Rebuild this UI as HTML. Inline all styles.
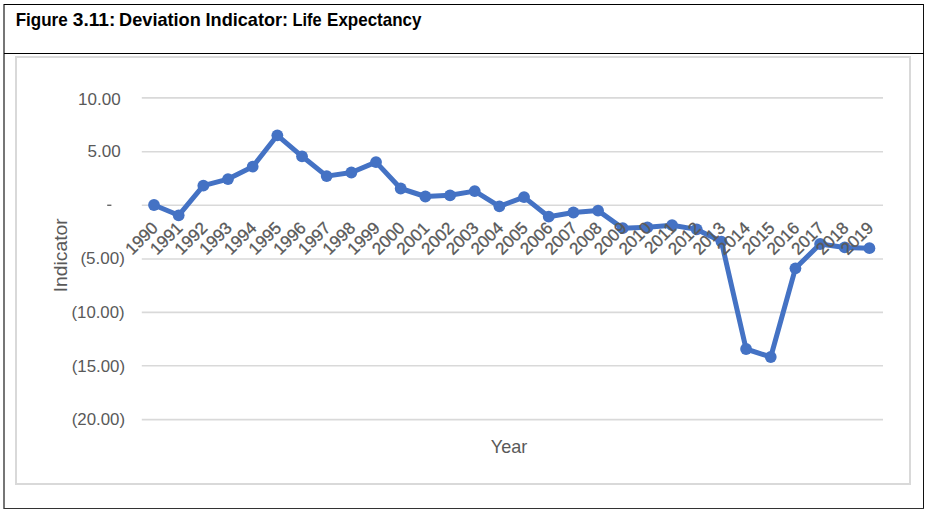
<!DOCTYPE html>
<html><head><meta charset="utf-8"><style>
html,body{margin:0;padding:0;background:#fff;}
svg{display:block;}
text{font-family:"Liberation Sans",sans-serif;}
</style></head><body>
<svg width="927" height="512" viewBox="0 0 927 512">
<rect x="0" y="0" width="927" height="512" fill="#fff"/>
<rect x="3" y="4" width="2" height="505" fill="#767676"/>
<rect x="4" y="4" width="920" height="1" fill="#000"/>
<rect x="923" y="4" width="1" height="505" fill="#111"/>
<rect x="4" y="508" width="920" height="1" fill="#333"/>
<rect x="4" y="53" width="920" height="1" fill="#000"/>
<g font-weight="bold" fill="#000">
<text transform="translate(15.64,25.60) scale(0.9627,1)" font-size="17.7">Figure</text>
<text transform="translate(72.82,25.60) scale(1.0816,1)" font-size="17.7">3.11:</text>
<text transform="translate(119.12,25.60) scale(1.0253,1)" font-size="17.7">Deviation</text>
<text transform="translate(205.52,25.60) scale(1.0258,1)" font-size="17.7">Indicator:</text>
<text transform="translate(292.54,25.60) scale(0.9248,1)" font-size="17.7">Life</text>
<text transform="translate(327.10,25.60) scale(0.9600,1)" font-size="17.7">Expectancy</text>
</g>
<rect x="16" y="57" width="894" height="427" fill="none" stroke="#d9d9d9" stroke-width="2"/>
<g stroke="#d9d9d9" stroke-width="1.6">
<line x1="141.8" x2="883" y1="97.90" y2="97.90"/>
<line x1="141.8" x2="883" y1="151.80" y2="151.80"/>
<line x1="141.8" x2="883" y1="205.20" y2="205.20"/>
<line x1="141.8" x2="883" y1="259.00" y2="259.00"/>
<line x1="141.8" x2="883" y1="312.40" y2="312.40"/>
<line x1="141.8" x2="883" y1="365.70" y2="365.70"/>
<line x1="141.8" x2="883" y1="419.60" y2="419.60"/>
</g>
<g fill="#595959">
<text transform="translate(78.02,104.91) scale(1.0017,1)" font-size="17">10.00</text>
<text transform="translate(87.62,157.22) scale(1.0030,1)" font-size="17">5.00</text>
<text transform="translate(80.38,264.22) scale(1.0017,1)" font-size="17">(5.00)</text>
<text transform="translate(71.50,318.01) scale(0.9852,1)" font-size="17">(10.00)</text>
<text transform="translate(71.69,371.56) scale(0.9929,1)" font-size="17">(15.00)</text>
<text transform="translate(71.69,424.76) scale(0.9929,1)" font-size="17">(20.00)</text>
<rect x="107.2" y="204.6" width="4.2" height="1.3" fill="#595959"/>
</g>
<path d="M154.00,205.00 L178.67,215.30 L203.34,185.70 L228.01,179.10 L252.68,166.70 L277.35,135.30 L302.02,156.30 L326.69,176.10 L351.36,172.50 L376.03,162.10 L400.70,188.50 L425.37,196.50 L450.04,195.30 L474.71,191.10 L499.38,206.30 L524.05,197.10 L548.72,216.70 L573.39,212.50 L598.06,210.60 L622.73,228.20 L647.40,227.30 L672.07,225.20 L696.74,229.40 L721.41,241.60 L746.08,349.00 L770.75,357.00 L795.42,268.30 L820.09,244.00 L844.76,247.40 L869.43,248.20" fill="none" stroke="#4472c4" stroke-width="5" stroke-linejoin="round"/>
<g fill="#4472c4">
<circle cx="154.00" cy="205.00" r="5.9"/>
<circle cx="178.67" cy="215.30" r="5.9"/>
<circle cx="203.34" cy="185.70" r="5.9"/>
<circle cx="228.01" cy="179.10" r="5.9"/>
<circle cx="252.68" cy="166.70" r="5.9"/>
<circle cx="277.35" cy="135.30" r="5.9"/>
<circle cx="302.02" cy="156.30" r="5.9"/>
<circle cx="326.69" cy="176.10" r="5.9"/>
<circle cx="351.36" cy="172.50" r="5.9"/>
<circle cx="376.03" cy="162.10" r="5.9"/>
<circle cx="400.70" cy="188.50" r="5.9"/>
<circle cx="425.37" cy="196.50" r="5.9"/>
<circle cx="450.04" cy="195.30" r="5.9"/>
<circle cx="474.71" cy="191.10" r="5.9"/>
<circle cx="499.38" cy="206.30" r="5.9"/>
<circle cx="524.05" cy="197.10" r="5.9"/>
<circle cx="548.72" cy="216.70" r="5.9"/>
<circle cx="573.39" cy="212.50" r="5.9"/>
<circle cx="598.06" cy="210.60" r="5.9"/>
<circle cx="622.73" cy="228.20" r="5.9"/>
<circle cx="647.40" cy="227.30" r="5.9"/>
<circle cx="672.07" cy="225.20" r="5.9"/>
<circle cx="696.74" cy="229.40" r="5.9"/>
<circle cx="721.41" cy="241.60" r="5.9"/>
<circle cx="746.08" cy="349.00" r="5.9"/>
<circle cx="770.75" cy="357.00" r="5.9"/>
<circle cx="795.42" cy="268.30" r="5.9"/>
<circle cx="820.09" cy="244.00" r="5.9"/>
<circle cx="844.76" cy="247.40" r="5.9"/>
<circle cx="869.43" cy="248.20" r="5.9"/>
</g>
<g fill="#595959" stroke="#595959" stroke-width="0.3">
<text transform="translate(159.00,229.00) rotate(-45) scale(1.0,1)" text-anchor="end" font-size="17">1990</text>
<text transform="translate(183.67,229.00) rotate(-45) scale(1.0,1)" text-anchor="end" font-size="17">1991</text>
<text transform="translate(208.34,229.00) rotate(-45) scale(1.0,1)" text-anchor="end" font-size="17">1992</text>
<text transform="translate(233.01,229.00) rotate(-45) scale(1.0,1)" text-anchor="end" font-size="17">1993</text>
<text transform="translate(257.68,229.00) rotate(-45) scale(1.0,1)" text-anchor="end" font-size="17">1994</text>
<text transform="translate(282.35,229.00) rotate(-45) scale(1.0,1)" text-anchor="end" font-size="17">1995</text>
<text transform="translate(307.02,229.00) rotate(-45) scale(1.0,1)" text-anchor="end" font-size="17">1996</text>
<text transform="translate(331.69,229.00) rotate(-45) scale(1.0,1)" text-anchor="end" font-size="17">1997</text>
<text transform="translate(356.36,229.00) rotate(-45) scale(1.0,1)" text-anchor="end" font-size="17">1998</text>
<text transform="translate(381.03,229.00) rotate(-45) scale(1.0,1)" text-anchor="end" font-size="17">1999</text>
<text transform="translate(405.70,229.00) rotate(-45) scale(1.0,1)" text-anchor="end" font-size="17">2000</text>
<text transform="translate(430.37,229.00) rotate(-45) scale(1.0,1)" text-anchor="end" font-size="17">2001</text>
<text transform="translate(455.04,229.00) rotate(-45) scale(1.0,1)" text-anchor="end" font-size="17">2002</text>
<text transform="translate(479.71,229.00) rotate(-45) scale(1.0,1)" text-anchor="end" font-size="17">2003</text>
<text transform="translate(504.38,229.00) rotate(-45) scale(1.0,1)" text-anchor="end" font-size="17">2004</text>
<text transform="translate(529.05,229.00) rotate(-45) scale(1.0,1)" text-anchor="end" font-size="17">2005</text>
<text transform="translate(553.72,229.00) rotate(-45) scale(1.0,1)" text-anchor="end" font-size="17">2006</text>
<text transform="translate(578.39,229.00) rotate(-45) scale(1.0,1)" text-anchor="end" font-size="17">2007</text>
<text transform="translate(603.06,229.00) rotate(-45) scale(1.0,1)" text-anchor="end" font-size="17">2008</text>
<text transform="translate(627.73,229.00) rotate(-45) scale(1.0,1)" text-anchor="end" font-size="17">2009</text>
<text transform="translate(652.40,229.00) rotate(-45) scale(1.0,1)" text-anchor="end" font-size="17">2010</text>
<text transform="translate(677.07,229.00) rotate(-45) scale(1.0,1)" text-anchor="end" font-size="17">2011</text>
<text transform="translate(701.74,229.00) rotate(-45) scale(1.0,1)" text-anchor="end" font-size="17">2012</text>
<text transform="translate(726.41,229.00) rotate(-45) scale(1.0,1)" text-anchor="end" font-size="17">2013</text>
<text transform="translate(751.08,229.00) rotate(-45) scale(1.0,1)" text-anchor="end" font-size="17">2014</text>
<text transform="translate(775.75,229.00) rotate(-45) scale(1.0,1)" text-anchor="end" font-size="17">2015</text>
<text transform="translate(800.42,229.00) rotate(-45) scale(1.0,1)" text-anchor="end" font-size="17">2016</text>
<text transform="translate(825.09,229.00) rotate(-45) scale(1.0,1)" text-anchor="end" font-size="17">2017</text>
<text transform="translate(849.76,229.00) rotate(-45) scale(1.0,1)" text-anchor="end" font-size="17">2018</text>
<text transform="translate(874.43,229.00) rotate(-45) scale(1.0,1)" text-anchor="end" font-size="17">2019</text>
</g>
<g fill="#595959">
<text transform="translate(66.6,292.34) rotate(-90) scale(1.0449,1)" font-size="18.5">Indicator</text>
<text transform="translate(490.85,453.00) scale(0.9773,1)" font-size="18.5">Year</text>
</g>
</svg>
</body></html>
